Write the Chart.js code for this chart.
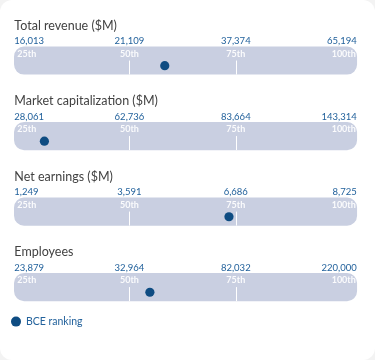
<!DOCTYPE html>
<html>
<head>
<meta charset="utf-8">
<script src="https://cdn.jsdelivr.net/npm/chart.js@4.4.1/dist/chart.umd.min.js"></script>
<style>
  html, body { margin: 0; padding: 0; background: #f3f3f3; }
  #card { position: relative; width: 375px; height: 360px; background: #ffffff; border-radius: 12px; overflow: hidden; }
  canvas { display: block; }
</style>
</head>
<body>
<div id="card"><canvas id="c" width="375" height="360"></canvas></div>
<script>
// ---- data ----
const metrics = ['Total revenue ($M)', 'Market capitalization ($M)', 'Net earnings ($M)', 'Employees'];
const percentileLabels = ['25th', '50th', '75th', '100th'];
const percentileValues = [25, 50, 75, 100];
const revenueQuartiles = ['16,013', '21,109', '37,374', '65,194'];
const marketCapQuartiles = ['28,061', '62,736', '83,664', '143,314'];
const earningsQuartiles = ['1,249', '3,591', '6,686', '8,725'];
const employeesQuartiles = ['23,879', '32,964', '82,032', '220,000'];
const bcePercentile = [58.3, 30.0, 73.4, 54.8];
const legendLabel = 'BCE ranking';

const quartileRows = [revenueQuartiles, marketCapQuartiles, earningsQuartiles, employeesQuartiles];

// ---- layout (pixels) ----
const W = 375, H = 360;
const P25_PX = 19, P100_PX = 346;        // pixel positions of 25th / 100th
const TRACK_L = 10, TRACK_R = 361;       // track pixel extents
const ROW0 = 57.4, ROW_PX = 77.5;        // row center / spacing
const DOT_DY_PX = 5.3;

const unitPx = (P100_PX - P25_PX) / 75;
const xMin = 25 - P25_PX / unitPx;
const xMax = 100 + (W - P100_PX) / unitPx;
const trackLo = 25 - (P25_PX - TRACK_L) / unitPx;
const trackHi = 100 + (TRACK_R - P100_PX) / unitPx;
const yMin = -ROW0 / ROW_PX;
const yMax = yMin + H / ROW_PX;

const BLUE_DOT = '#0e4c82';
const BLUE_TXT = '#23629c';
const TRACK = '#c9cfe1';
const FONT = 'Lato, "Open Sans", sans-serif';

const overlay = {
  id: 'overlay',
  afterDatasetDraw(chart, args) {
    if (args.index !== 0) return;
    const ctx = chart.ctx, xs = chart.scales.x, ys = chart.scales.y;
    ctx.save();
    metrics.forEach((m, i) => {
      const cy = ys.getPixelForValue(i);
      // divider lines at 50th / 75th
      ctx.strokeStyle = '#ffffff';
      ctx.lineWidth = 1;
      [50, 75].forEach(p => {
        const px = Math.round(xs.getPixelForValue(p)) + 0.5;
        ctx.beginPath(); ctx.moveTo(px, cy); ctx.lineTo(px, cy + 14); ctx.stroke();
      });
      // percentile labels inside track
      ctx.fillStyle = 'rgba(255,255,255,0.92)';
      ctx.font = 'bold 9px ' + FONT;
      ctx.textBaseline = 'middle';
      percentileLabels.forEach((lab, k) => {
        const p = percentileValues[k];
        let x = xs.getPixelForValue(p);
        if (k === 0) { ctx.textAlign = 'left'; x = xs.getPixelForValue(trackLo) + 3; }
        else if (k === percentileLabels.length - 1) { ctx.textAlign = 'right'; x = xs.getPixelForValue(trackHi) - 1; }
        else ctx.textAlign = 'center';
        ctx.fillText(lab, x, cy - 6.5);
      });
    });
    ctx.restore();
  },
  afterDraw(chart) {
    const ctx = chart.ctx, xs = chart.scales.x, ys = chart.scales.y;
    ctx.save();
    metrics.forEach((m, i) => {
      const cy = ys.getPixelForValue(i);
      ctx.fillStyle = '#424242';
      ctx.font = '12.5px ' + FONT;
      ctx.textAlign = 'left';
      ctx.textBaseline = 'alphabetic';
      ctx.fillText(m, xs.getPixelForValue(trackLo), cy - 31);
      ctx.fillStyle = BLUE_TXT;
      ctx.font = '9.5px ' + FONT;
      ctx.textBaseline = 'middle';
      quartileRows[i].forEach((v, k) => {
        let x = xs.getPixelForValue(percentileValues[k]);
        if (k === 0) { ctx.textAlign = 'left'; x = xs.getPixelForValue(trackLo); }
        else if (k === 3) { ctx.textAlign = 'right'; x = xs.getPixelForValue(trackHi); }
        else ctx.textAlign = 'center';
        ctx.fillText(v, x, cy - 19.5);
      });
    });
    // legend
    const ly = ys.getPixelForValue(metrics.length - 1) + 34.5;
    ctx.fillStyle = BLUE_DOT;
    ctx.beginPath(); ctx.arc(16, ly, 5, 0, Math.PI * 2); ctx.fill();
    ctx.fillStyle = BLUE_TXT;
    ctx.font = '10.5px ' + FONT;
    ctx.textAlign = 'left'; ctx.textBaseline = 'middle';
    ctx.fillText(chart.data.datasets[1].label, 26, ly);
    ctx.restore();
  }
};

new Chart(document.getElementById('c'), {
  type: 'bar',
  data: {
    datasets: [
      {
        type: 'bar',
        label: 'track',
        data: metrics.map((m, i) => ({ y: i, x: [trackLo, trackHi] })),
        backgroundColor: TRACK,
        borderRadius: 10,
        borderSkipped: false,
        barThickness: 27.5,
        order: 2
      },
      {
        type: 'scatter',
        label: legendLabel,
        data: bcePercentile.map((v, i) => ({ x: v, y: i + DOT_DY_PX / ROW_PX })),
        backgroundColor: BLUE_DOT,
        borderWidth: 0,
        pointRadius: 4.6,
        order: 1
      }
    ]
  },
  options: {
    indexAxis: 'y',
    responsive: false,
    devicePixelRatio: 1,
    animation: false,
    layout: { padding: 0 },
    scales: {
      x: { type: 'linear', min: xMin, max: xMax, display: false },
      y: { type: 'linear', min: yMin, max: yMax, reverse: true, display: false, offset: false }
    },
    plugins: { legend: { display: false }, tooltip: { enabled: false } }
  },
  plugins: [overlay]
});
</script>
</body>
</html>
